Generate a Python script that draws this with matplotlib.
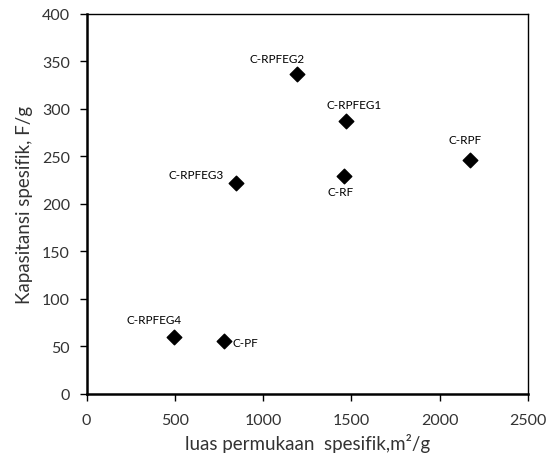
import matplotlib.pyplot as plt

# data
samples = ["C-RPFEG2", "C-RPFEG1", "C-RPF", "C-RF", "C-RPFEG3", "C-RPFEG4", "C-PF"]
luas = [1191, 1468, 2172, 1457, 849, 496, 779]
kapasitansi = [337, 287, 246, 229, 222, 60, 56]

# label offsets in pixels (dx, dy) and horizontal alignment
offsets = [(-20, 15), (8, 17), (-5, 21), (-3, -15), (-40, 8), (-20, 17), (8, -2)]
aligns = ["center", "center", "center", "center", "center", "center", "left"]

plt.rcParams["font.family"] = ["Lato", "DejaVu Sans"]

fig = plt.figure(figsize=(5.48, 4.64), dpi=100)
ax = fig.add_axes([0.158, 0.149, 0.8055, 0.819])

ax.scatter(luas, kapasitansi, marker="D", s=55, color="black", zorder=3)
for name, x, y, (dx, dy), ha in zip(samples, luas, kapasitansi, offsets, aligns):
    ax.annotate(name, (x, y), xytext=(dx, dy), textcoords="offset pixels",
                ha=ha, va="center", fontsize=8.5)

ax.set_xlim(0, 2500)
ax.set_ylim(0, 400)
ax.set_xticks(range(0, 2501, 500))
ax.set_yticks(range(0, 401, 50))
ax.tick_params(direction="out", length=5, width=1, labelsize=11.5,
               colors="black", labelcolor="#333333")
ax.tick_params(axis="x", pad=9)
ax.tick_params(axis="y", pad=7)
for side in ax.spines.values():
    side.set_linewidth(1)
ax.spines["left"].set_linewidth(1.8)
ax.spines["bottom"].set_linewidth(1.8)

ax.set_xlabel("luas permukaan  spesifik,m²/g", fontsize=13.5, color="#333333", labelpad=4)
ax.set_ylabel("Kapasitansi spesifik, F/g", fontsize=13.5, color="#333333", labelpad=6)

fig.savefig("out.png", dpi=100)
